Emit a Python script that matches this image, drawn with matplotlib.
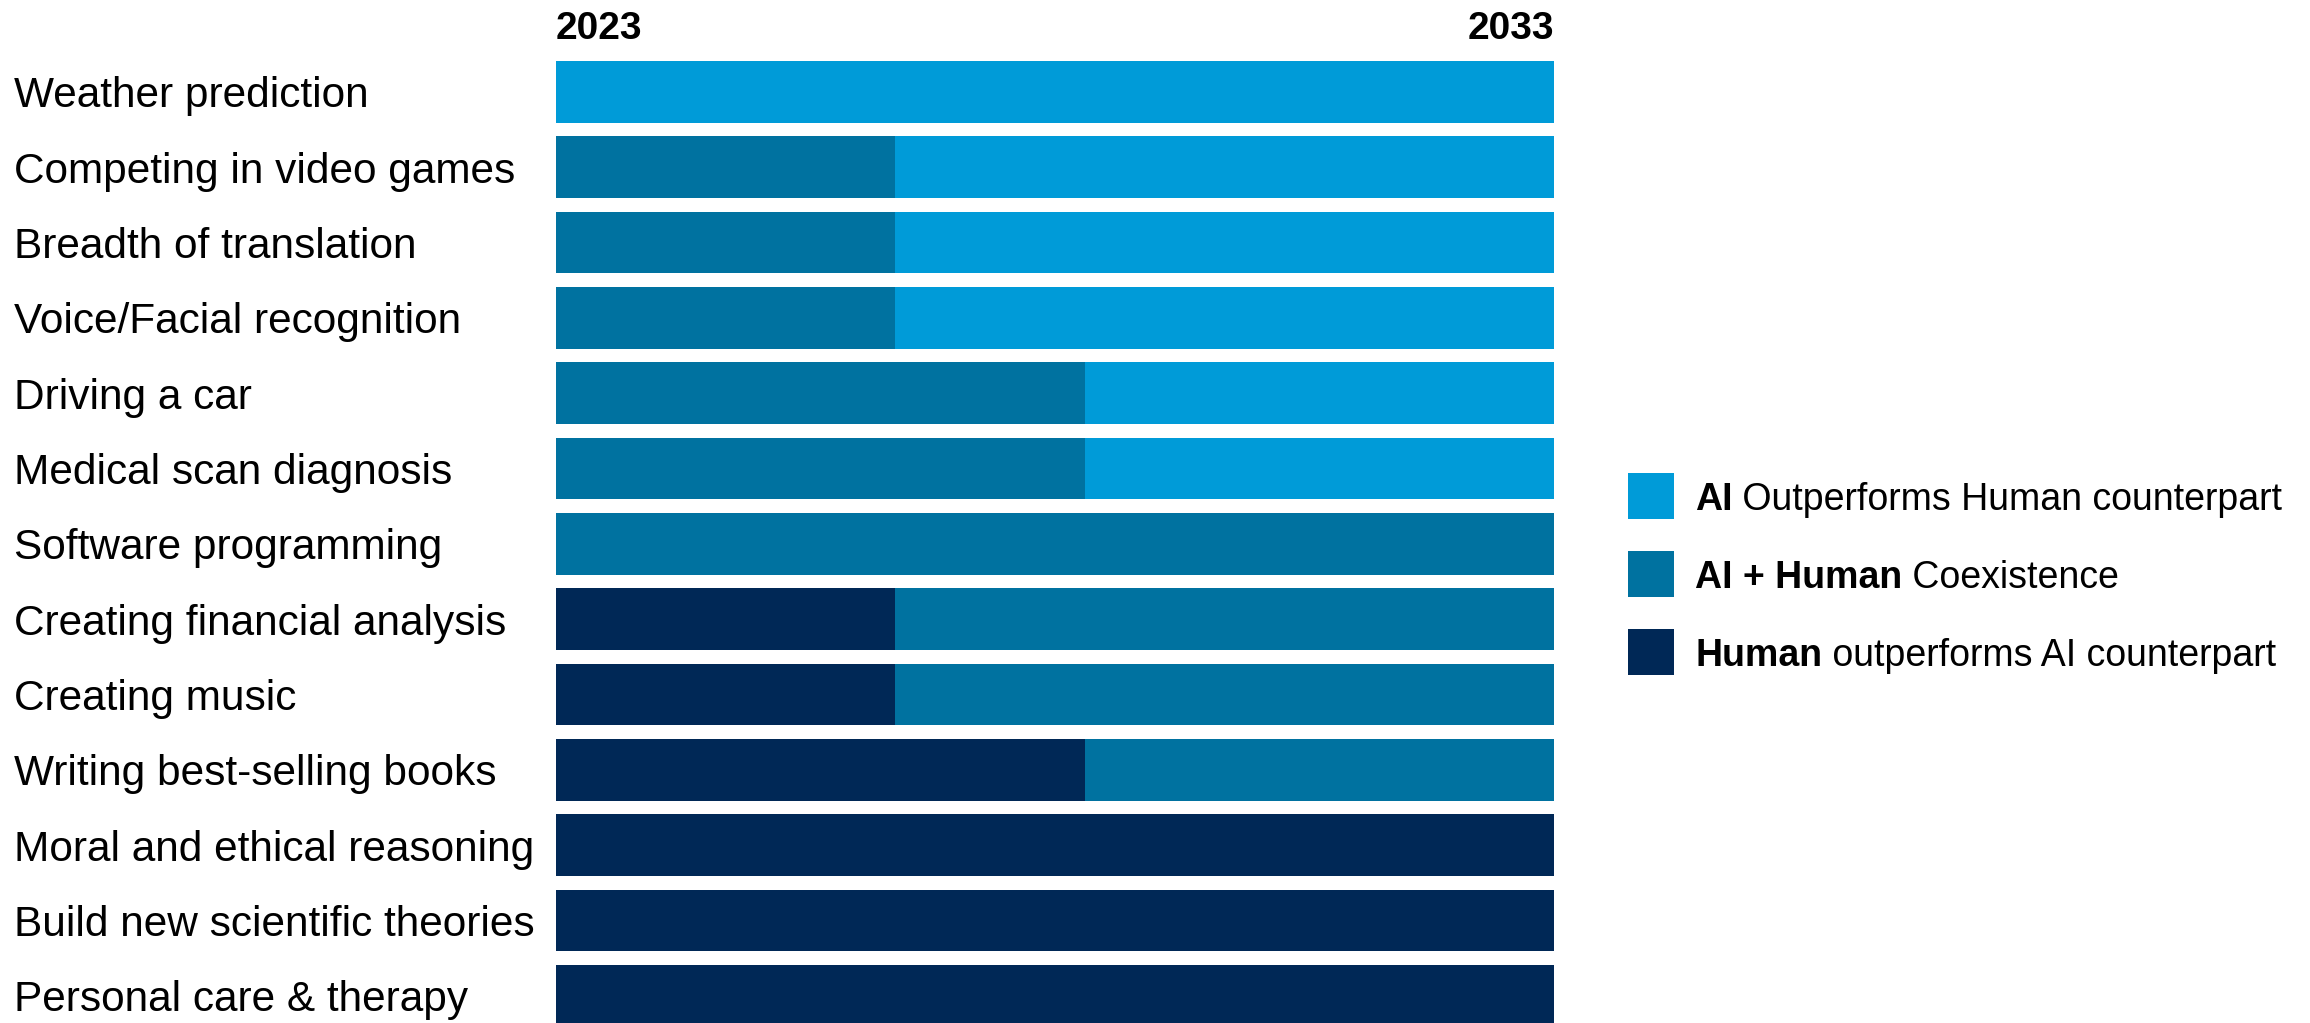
import matplotlib

matplotlib.use("Agg")
import matplotlib.pyplot as plt
from matplotlib.patches import Rectangle
from matplotlib.transforms import blended_transform_factory

# Data: years spent in each phase, 2023 -> 2033
START_YEAR = 2023
END_YEAR = 2033

categories = [
    "Weather prediction",
    "Competing in video games",
    "Breadth of translation",
    "Voice/Facial recognition",
    "Driving a car",
    "Medical scan diagnosis",
    "Software programming",
    "Creating financial analysis",
    "Creating music",
    "Writing best-selling books",
    "Moral and ethical reasoning",
    "Build new scientific theories",
    "Personal care & therapy",
]
human_years = [0, 0, 0, 0, 0, 0, 0, 3.4, 3.4, 5.3, 10, 10, 10]
coexist_years = [0, 3.4, 3.4, 3.4, 5.3, 5.3, 10, 6.6, 6.6, 4.7, 0, 0, 0]
ai_years = [10, 6.6, 6.6, 6.6, 4.7, 4.7, 0, 0, 0, 0, 0, 0, 0]

legend_bold = ["AI", "AI + Human", "Human"]
legend_rest = [" Outperforms Human counterpart", " Coexistence", " outperforms AI counterpart"]

COLOR_AI = "#009bd8"
COLOR_COEXIST = "#0072a0"
COLOR_HUMAN = "#002856"
legend_colors = [COLOR_AI, COLOR_COEXIST, COLOR_HUMAN]

FONT = ["Liberation Sans", "Arial", "DejaVu Sans"]
plt.rcParams["font.family"] = FONT

W, H = 2310, 1023
fig = plt.figure(figsize=(W / 100, H / 100), dpi=100)
ax = fig.add_axes([556 / W, 0, 998 / W, 1])

# row pitch / bar geometry measured in pixels
row0_px, pitch_px = 91.85, 75.33
ax.set_ylim((H - row0_px) / pitch_px, -row0_px / pitch_px)
ax.set_xlim(START_YEAR, END_YEAR)
ax.axis("off")

y = list(range(len(categories)))
bar_h = 61.7 / pitch_px
left = [START_YEAR] * len(categories)
ax.barh(y, human_years, left=left, height=bar_h, color=COLOR_HUMAN, linewidth=0)
left2 = [l + h for l, h in zip(left, human_years)]
ax.barh(y, coexist_years, left=left2, height=bar_h, color=COLOR_COEXIST, linewidth=0)
left3 = [l + c for l, c in zip(left2, coexist_years)]
ax.barh(y, ai_years, left=left3, height=bar_h, color=COLOR_AI, linewidth=0)

# category labels, baseline a bit below the bar centre
label_tr = blended_transform_factory(fig.transFigure, ax.transData)
for i, name in enumerate(categories):
    ax.text(14 / W, i + 15.5 / pitch_px, name, transform=label_tr,
            ha="left", va="baseline", fontsize=30.5, color="black", clip_on=False)

# year labels above the bars
year_y = (39 - row0_px) / pitch_px
ax.text(START_YEAR, year_y, str(START_YEAR), ha="left", va="baseline",
        fontsize=28, fontweight="bold", clip_on=False)
ax.text(END_YEAR, year_y, str(END_YEAR), ha="right", va="baseline",
        fontsize=28, fontweight="bold", clip_on=False)

# legend drawn by hand: square + bold lead-in + regular text
fig.canvas.draw()
renderer = fig.canvas.get_renderer()
legend_centers = [496, 574, 652]
for cy, col, bold, rest in zip(legend_centers, legend_colors, legend_bold, legend_rest):
    fig.add_artist(Rectangle((1628 / W, 1 - (cy + 23) / H), 46 / W, 46 / H,
                             transform=fig.transFigure, color=col, linewidth=0))
    base = 1 - (cy + 13.8) / H
    t = fig.text(1695 / W, base, bold, fontsize=27, fontweight="bold", va="baseline")
    bb = t.get_window_extent(renderer)
    fig.text(bb.x1 / W, base, rest, fontsize=27, va="baseline")

fig.savefig("out.png", dpi=100)
